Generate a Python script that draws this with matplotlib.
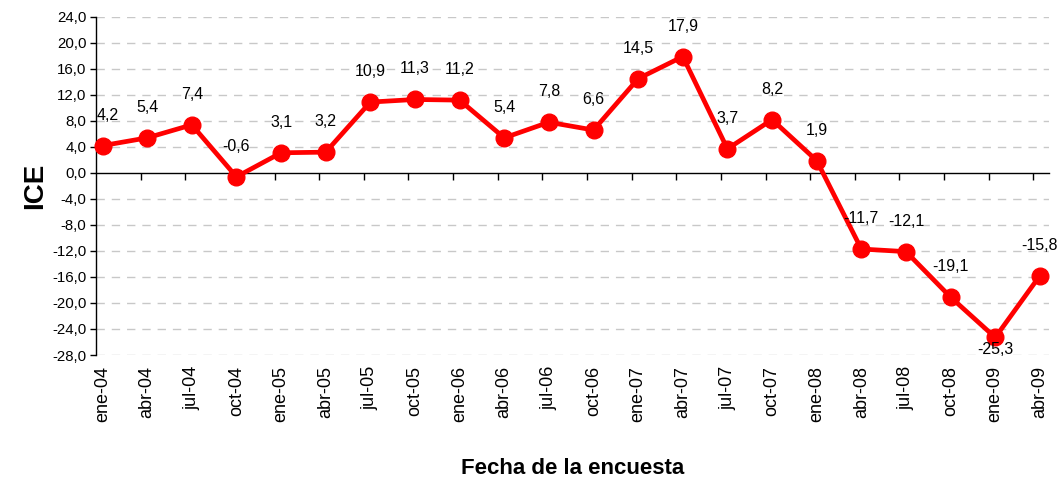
import numpy as np
import matplotlib
matplotlib.use('Agg')
from matplotlib import pyplot as plt
from matplotlib.ticker import FixedLocator, FuncFormatter

plt.rcParams['font.family'] = ['Liberation Sans', 'DejaVu Sans']

fechas = ['ene-04', 'abr-04', 'jul-04', 'oct-04', 'ene-05', 'abr-05', 'jul-05', 'oct-05',
          'ene-06', 'abr-06', 'jul-06', 'oct-06', 'ene-07', 'abr-07', 'jul-07', 'oct-07',
          'ene-08', 'abr-08', 'jul-08', 'oct-08', 'ene-09', 'abr-09']
ice = [4.2, 5.4, 7.4, -0.6, 3.1, 3.2, 10.9, 11.3, 11.2, 5.4, 7.8, 6.6,
       14.5, 17.9, 3.7, 8.2, 1.9, -11.7, -12.1, -19.1, -25.3, -15.8]
y_ticks = np.arange(-28, 25, 4)


def coma(v, pos=None):
    return '{:.1f}'.format(v).replace('.', ',')


fig = plt.figure(figsize=(10.62, 4.83), dpi=100)
ax = fig.add_axes([0.0904, 0.265, 0.8976, 0.70])

x = np.arange(len(fechas))
ax.plot(x, ice, color='#ff0000', linewidth=3.4, marker='o', markersize=12, zorder=3, clip_on=False)

# etiquetas de datos
imin = int(np.argmin(ice))
for i, v in enumerate(ice):
    dy = 22 if i != imin else -9
    dx = 4 if i == 0 else 0
    ax.annotate(coma(v), (i, v), xytext=(dx, dy), textcoords='offset points',
                ha='center', va='center', fontsize=11.5, color='black', zorder=4)

ax.set_ylim(-28, 24)
ax.set_xlim(-0.146, 21.21)
ax.yaxis.set_major_locator(FixedLocator(y_ticks))
ax.yaxis.set_major_formatter(FuncFormatter(coma))
ax.tick_params(axis='y', labelsize=10.8, length=4, width=1, direction='out', pad=3)
for t in y_ticks:
    if t != 0:
        ax.axhline(t, color='#c8c8c8', linestyle=(0, (6, 5)), linewidth=1, zorder=0)

# eje x en y=0 con marcas entre categorias
for s in ['top', 'right']:
    ax.spines[s].set_visible(False)
ax.spines['bottom'].set_position(('data', 0))
ax.spines['bottom'].set_linewidth(1)
ax.spines['left'].set_linewidth(1)
ax.xaxis.set_major_locator(FixedLocator(x[1:] - 0.146))
ax.xaxis.set_major_formatter(FuncFormatter(lambda v, p: ''))
ax.tick_params(axis='x', length=5, width=1, direction='out')

# etiquetas de categorias abajo
sec = ax.secondary_xaxis('bottom')
sec.set_xticks(x)
sec.set_xticklabels(fechas, rotation=90, fontsize=13)
sec.tick_params(length=0, pad=8)
sec.spines['bottom'].set_visible(False)
sec.set_xlabel('Fecha de la encuesta', fontsize=16, fontweight='bold', labelpad=26)

ax.set_ylabel('ICE', fontsize=20, fontweight='bold', labelpad=3)

plt.savefig('out.png', dpi=100)
